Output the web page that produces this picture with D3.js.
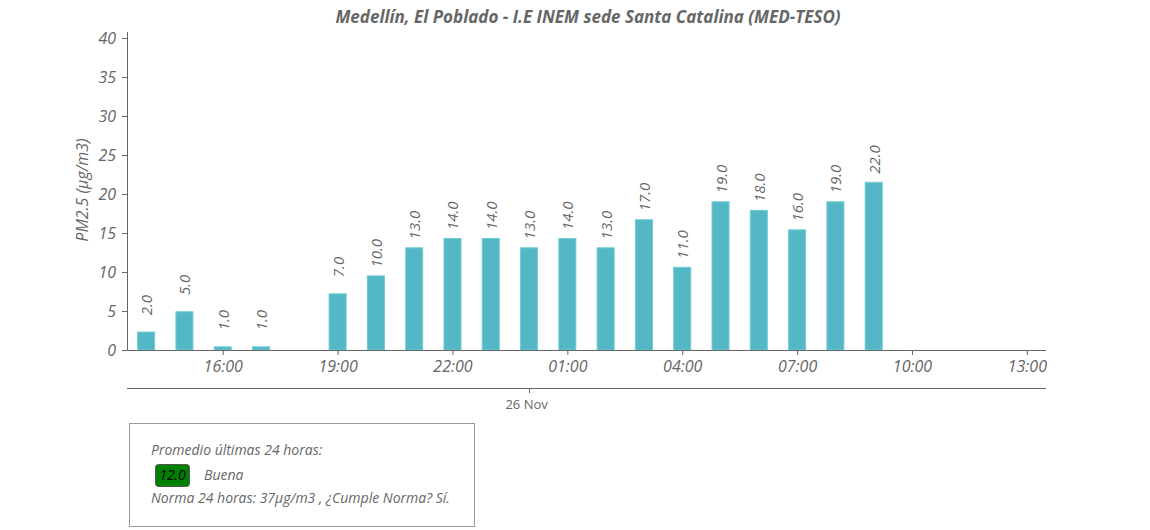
<!DOCTYPE html>
<html><head><meta charset="utf-8">
<script src="https://cdn.jsdelivr.net/npm/d3@7"></script>
<style>
body{margin:0;background:#fff;}
text{font-family:"Open Sans",sans-serif;}
</style></head>
<body><svg id="c" width="1150" height="530"></svg>
<script>
const hours = ["2023-11-25T14:00","2023-11-25T15:00","2023-11-25T16:00","2023-11-25T17:00",
  "2023-11-25T19:00","2023-11-25T20:00","2023-11-25T21:00","2023-11-25T22:00","2023-11-25T23:00",
  "2023-11-26T00:00","2023-11-26T01:00","2023-11-26T02:00","2023-11-26T03:00","2023-11-26T04:00",
  "2023-11-26T05:00","2023-11-26T06:00","2023-11-26T07:00","2023-11-26T08:00","2023-11-26T09:00"];
const values = [2.3,4.9,0.4,0.4,7.2,9.5,13.1,14.3,14.3,13.1,14.3,13.1,16.7,10.6,19.0,17.9,15.4,19.0,21.5];
const labels = ["2.0","5.0","1.0","1.0","7.0","10.0","13.0","14.0","14.0","13.0","14.0","13.0","17.0","11.0","19.0","18.0","16.0","19.0","22.0"];
const yTicks = [0,5,10,15,20,25,30,35,40];
const xTickHours = ["2023-11-25T16:00","2023-11-25T19:00","2023-11-25T22:00","2023-11-26T01:00","2023-11-26T04:00","2023-11-26T07:00","2023-11-26T10:00","2023-11-26T13:00"];
const xDomain = ["2023-11-25T13:30","2023-11-26T13:30"];
const dayMark = "2023-11-26T00:00";
const title = "Medellín, El Poblado - I.E INEM sede Santa Catalina (MED-TESO)";
const yTitle = "PM2.5 (μg/m3)";
const avgValue = "12.0", avgCategory = "Buena";

const parse = d3.timeParse("%Y-%m-%dT%H:%M");
const svg = d3.select("#c");
const L=127, R=1046, T=38, B=350;
const grey="#666";
const F = "Open Sans";
const x = d3.scaleTime().domain(xDomain.map(parse)).range([L,R]);
const y = d3.scaleLinear().domain([0,40]).range([B,T]);

// title
svg.append("text").attr("x",588).attr("y",23).attr("text-anchor","middle")
  .attr("font-size",17).attr("font-weight","bold").attr("font-style","italic").attr("fill",grey).text(title);

// y axis
const ya = svg.append("g").attr("transform",`translate(${L},0)`)
  .call(d3.axisLeft(y).tickValues(yTicks).tickSize(5).tickPadding(6).tickFormat(d3.format("d")));
ya.select(".domain").remove();
ya.selectAll("line").attr("stroke",grey);
ya.selectAll("text").attr("font-size",16).attr("font-style","italic").attr("fill",grey).attr("font-family",F);
svg.append("line").attr("x1",L+0.5).attr("x2",L+0.5).attr("y1",32).attr("y2",B).attr("stroke",grey);

svg.append("text").attr("transform",`translate(88,190) rotate(-90)`).attr("text-anchor","middle")
  .attr("font-size",16).attr("font-style","italic").attr("fill",grey).text(yTitle);

// bars
const bw = 17;
svg.append("g").selectAll("rect").data(values).join("rect")
  .attr("x",(d,i)=>x(parse(hours[i]))-bw/2)
  .attr("y",d=>y(d)).attr("width",bw).attr("height",d=>B-y(d))
  .attr("fill","#53b7c5").attr("stroke","#6fcbd5").attr("stroke-width",1);

// labels
svg.append("g").selectAll("text").data(values).join("text")
  .attr("transform",(d,i)=>`translate(${x(parse(hours[i]))+2},${y(d)-37}) rotate(-90)`)
  .attr("dominant-baseline","middle").attr("text-anchor","end")
  .attr("font-size",15).attr("font-style","italic").attr("fill",grey)
  .text((d,i)=>labels[i]);

// x axis
const xa = svg.append("g").attr("transform",`translate(0,${B})`)
  .call(d3.axisBottom(x).tickValues(xTickHours.map(parse)).tickSize(5).tickPadding(6).tickFormat(d3.timeFormat("%H:%M")));
xa.select(".domain").attr("stroke",grey).attr("d",`M${L},0.5H${R}`);
xa.selectAll("line").attr("stroke",grey);
xa.selectAll("text").attr("font-size",16).attr("font-style","italic").attr("fill",grey).attr("font-family",F);

// date axis
const da = svg.append("g").attr("transform",`translate(0,388)`)
  .call(d3.axisBottom(x).tickValues([parse(dayMark)]).tickSize(5).tickPadding(7).tickFormat(()=>"26 Nov"));
da.select(".domain").attr("stroke",grey).attr("d",`M${L},0.5H${R}`);
da.selectAll("line").attr("stroke",grey);
da.selectAll("text").attr("font-size",13).attr("fill",grey).attr("font-family",F).attr("transform","translate(-3,0)");

// legend box
const g = svg.append("g");
g.append("rect").attr("x",129.5).attr("y",423.5).attr("width",345).attr("height",103).attr("fill","#fff").attr("stroke","#999");
g.append("text").attr("x",151).attr("y",455).attr("font-size",14).attr("font-style","italic").attr("fill",grey).text("Promedio últimas 24 horas:");
g.append("rect").attr("x",155.5).attr("y",464.5).attr("width",34).attr("height",22).attr("rx",3).attr("fill","#008000").attr("stroke","#555");
g.append("text").attr("x",172.5).attr("y",480).attr("text-anchor","middle").attr("font-size",14).attr("font-style","italic").attr("fill","#000").text(avgValue);
g.append("text").attr("x",204).attr("y",480).attr("font-size",14).attr("font-style","italic").attr("fill",grey).text(avgCategory);
g.append("text").attr("x",151).attr("y",503).attr("font-size",14).attr("font-style","italic").attr("fill",grey).text("Norma 24 horas: 37μg/m3 , ¿Cumple Norma? Sí.");
</script></body></html>
